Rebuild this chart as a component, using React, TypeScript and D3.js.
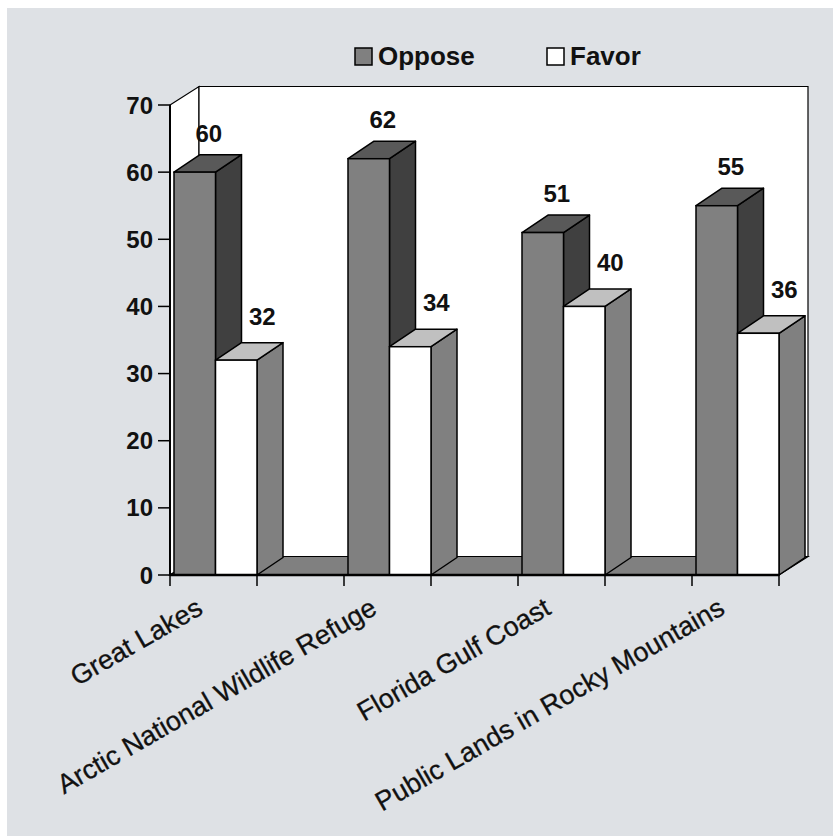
import React from "react";
import * as d3 from "d3";

const categories = [
  "Great Lakes",
  "Arctic National Wildlife Refuge",
  "Florida Gulf Coast",
  "Public Lands in Rocky Mountains",
];
const seriesNames = ["Oppose", "Favor"];
const opposeValues = [60, 62, 51, 55];
const favorValues = [32, 34, 40, 36];
const yTickValues = [0, 10, 20, 30, 40, 50, 60, 70];

const W = 833;
const H = 837;
const FONT = "'Liberation Sans', Arial, Helvetica, sans-serif";

// layout
const axisLeft = 170;
const axisRight = 779;
const axisBottom = 575;
const axisTop = 105;
const halfStep = (axisRight - axisLeft) / 7;
const WDX = 29, WDY = -18.5; // wall depth
const BDX = 26, BDY = -17.5; // bar depth
const barGap = 4;

const faceColors = [
  { front: "#808080", top: "#595959", side: "#404040" },
  { front: "#ffffff", top: "#c0c0c0", side: "#808080" },
];
const labelNudge = [
  { dx: 14, dy: -13 },
  { dx: 26, dy: -18 },
];

export default function App() {
  const x = d3
    .scaleBand<string>()
    .domain(categories)
    .range([axisLeft, axisLeft + 8 * halfStep])
    .padding(0);
  const y = d3.scaleLinear().domain([0, 70]).range([axisBottom, axisTop]);
  const bw = (halfStep - barGap) / 2;
  const series = [opposeValues, favorValues];

  const pts = (a: number[][]) => a.map((p) => p.join(",")).join(" ");
  const stroke = "#000";

  const xTicks: number[] = [];
  categories.forEach((c) => {
    const s = x(c)!;
    xTicks.push(s);
    xTicks.push(s + x.bandwidth() / 2);
  });
  const xTicksFiltered = xTicks.filter((t) => t <= axisRight + 0.5);

  const y0 = y(0);
  const yTop = y(70);

  return (
    <svg
      width={W}
      height={H}
      style={{ position: "absolute", left: 0, top: 0, fontFamily: FONT }}
    >
      <rect x={0} y={0} width={W} height={H} fill="#ffffff" />
      <rect x={7} y={8} width={W - 7} height={H - 9} fill="#dee1e5" />

      {/* walls */}
      <polygon
        points={pts([
          [axisLeft, yTop],
          [axisLeft + WDX, yTop + WDY],
          [axisLeft + WDX, y0 + WDY],
          [axisLeft, y0],
        ])}
        fill="#fff"
        stroke={stroke}
        strokeWidth={1.2}
      />
      <polygon
        points={pts([
          [axisLeft + WDX, yTop + WDY],
          [axisRight + WDX, yTop + WDY],
          [axisRight + WDX, y0 + WDY],
          [axisLeft + WDX, y0 + WDY],
        ])}
        fill="#fff"
        stroke={stroke}
        strokeWidth={1.2}
      />
      <polygon
        points={pts([
          [axisLeft, y0],
          [axisLeft + WDX, y0 + WDY],
          [axisRight + WDX, y0 + WDY],
          [axisRight, y0],
        ])}
        fill="#808080"
        stroke={stroke}
        strokeWidth={1.2}
      />

      {/* bars */}
      {categories.map((c, i) =>
        series.map((vals, s) => {
          const v = vals[i];
          const x0 = x(c)! + barGap + s * bw;
          const x1 = x0 + bw;
          const yv = y(v);
          const col = faceColors[s];
          return (
            <g key={c + s}>
              <polygon
                points={pts([
                  [x1, yv],
                  [x1 + BDX, yv + BDY],
                  [x1 + BDX, y0 + BDY],
                  [x1, y0],
                ])}
                fill={col.side}
                stroke={stroke}
                strokeWidth={1.5}
                strokeLinejoin="round"
              />
              <polygon
                points={pts([
                  [x0, yv],
                  [x0 + BDX, yv + BDY],
                  [x1 + BDX, yv + BDY],
                  [x1, yv],
                ])}
                fill={col.top}
                stroke={stroke}
                strokeWidth={1.5}
                strokeLinejoin="round"
              />
              <rect
                x={x0}
                y={yv}
                width={bw}
                height={y0 - yv}
                fill={col.front}
                stroke={stroke}
                strokeWidth={1.5}
              />
            </g>
          );
        })
      )}

      {/* axes */}
      <line x1={axisLeft} x2={axisLeft} y1={yTop} y2={y0} stroke={stroke} strokeWidth={2} />
      <line x1={axisLeft} x2={axisRight} y1={y0} y2={y0} stroke={stroke} strokeWidth={2.5} />
      {yTickValues.map((t) => (
        <g key={"yt" + t}>
          <line x1={axisLeft - 12} x2={axisLeft} y1={y(t)} y2={y(t)} stroke={stroke} strokeWidth={1.5} />
          <text
            x={axisLeft - 17}
            y={y(t)}
            dy="0.36em"
            textAnchor="end"
            fontSize={24}
            fontWeight="bold"
            fill="#111"
          >
            {t}
          </text>
        </g>
      ))}
      {xTicksFiltered.map((t, i) => (
        <line key={"xt" + i} x1={t} x2={t} y1={y0} y2={y0 + 11} stroke={stroke} strokeWidth={1.5} />
      ))}

      {/* category labels */}
      {categories.map((c) => {
        const cx = x(c)! + barGap + bw - 11;
        return (
          <text
            key={"cl" + c}
            transform={`translate(${cx},${613}) rotate(-30)`}
            textAnchor="end"
            fontSize={27}
            fill="#111"
            stroke="#111"
            strokeWidth={0.3}
          >
            {c}
          </text>
        );
      })}

      {/* value labels */}
      {categories.map((c, i) =>
        series.map((vals, s) => {
          const v = vals[i];
          const x0 = x(c)! + barGap + s * bw;
          const cx = x0 + bw / 2 + labelNudge[s].dx;
          const cy = y(v) + BDY + labelNudge[s].dy;
          return (
            <text
              key={"vl" + c + s}
              x={cx}
              y={cy}
              textAnchor="middle"
              fontSize={24}
              fontWeight="bold"
              fill="#111"
            >
              {v}
            </text>
          );
        })
      )}

      {/* legend */}
      {seriesNames.map((n, s) => {
        const lx = s === 0 ? 355 : 547;
        return (
          <g key={"lg" + n}>
            <rect x={lx} y={48} width={17} height={17} fill={faceColors[s].front} stroke={stroke} strokeWidth={1.5} />
            <text x={lx + 23} y={65} fontSize={26} fontWeight="bold" fill="#111">
              {n}
            </text>
          </g>
        );
      })}
    </svg>
  );
}
